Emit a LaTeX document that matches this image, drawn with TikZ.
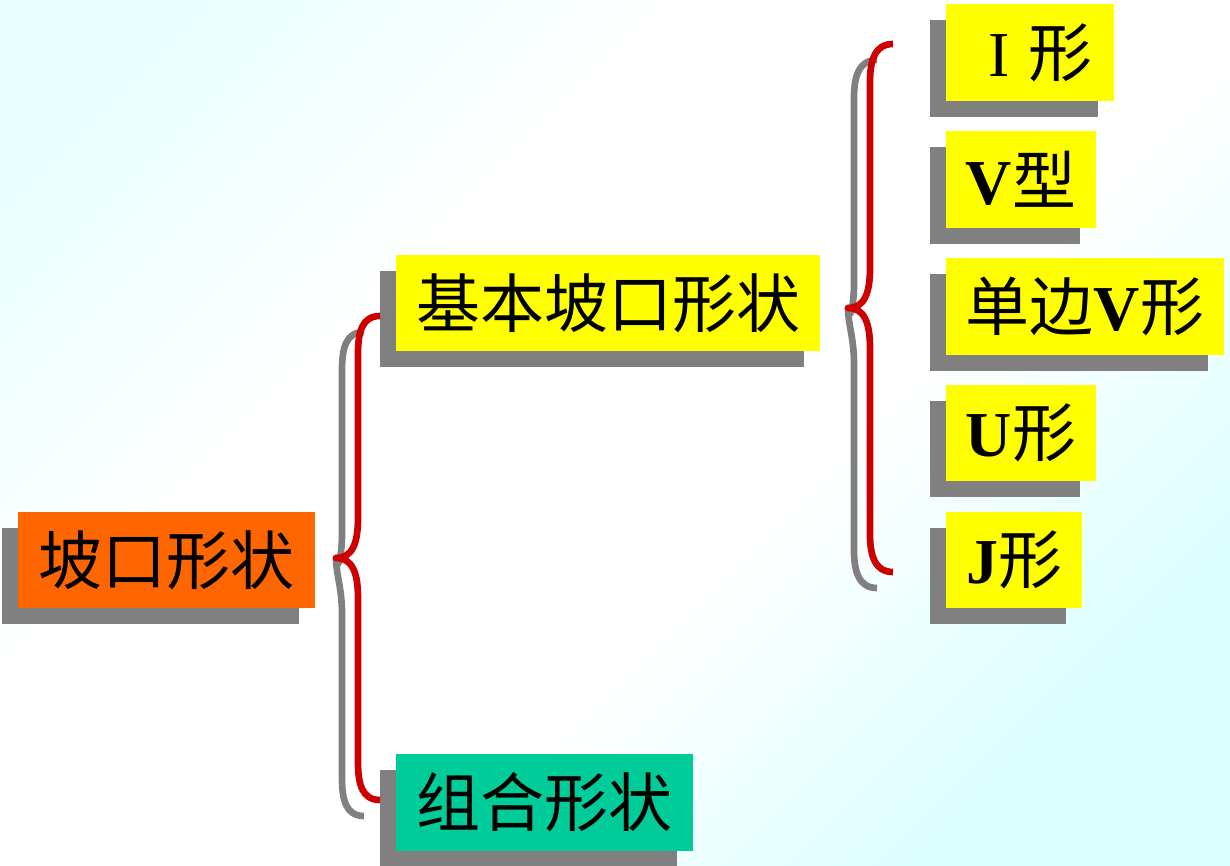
\documentclass[tikz,border=0pt]{standalone}
\usepackage{fontspec}
\setmainfont{Liberation Serif}
\newfontfamily\cjk{Noto Sans CJK SC}
\newfontfamily\lat{Liberation Serif}
\usetikzlibrary{shadows}
\definecolor{bgcyanA}{HTML}{EAFFFF}
\definecolor{bgcyanB}{HTML}{DCFFFF}
\definecolor{boxorange}{HTML}{FF6600}
\definecolor{boxgreen}{HTML}{00CC99}
\definecolor{boxyellow}{HTML}{FFFF00}
\definecolor{shgrey}{HTML}{808080}
\definecolor{bred}{HTML}{CC0000}
\pgfdeclareverticalshading{bgdiag}{100bp}{color(0bp)=(bgcyanB); color(25bp)=(bgcyanB); color(42bp)=(white); color(62bp)=(white); color(78bp)=(bgcyanA); color(100bp)=(bgcyanA)}
\begin{document}
\begin{tikzpicture}[x=0.75pt,y=-0.75pt,
  box/.style={inner sep=0pt, font=\cjk\fontsize{48}{50}\selectfont, text=black,
    drop shadow={shadow xshift=-12pt, shadow yshift=-12pt, opacity=1, fill=shgrey}},
  sz/.style 2 args={minimum width=#1*0.75pt, minimum height=#2*0.75pt},
  bracestroke/.style={line width=5pt, line cap=butt, line join=round}]
% background
\shade[shading=bgdiag, shading angle=45] (0,0) rectangle (1230,866);
\useasboundingbox (0,0) rectangle (1230,866);

% nodes
\node[box, fill=boxorange, sz={297}{96}] (root) at (166.5,560) {坡口形状};
\node[box, fill=boxyellow, sz={424}{96}] (basic) at (608,303) {基本坡口形状};
\node[box, fill=boxgreen, sz={297}{97}] (combo) at (544.5,802.5) {组合形状};
\node[box, fill=boxyellow, sz={168}{97}] (tI) at (1030,52.5) {\kern 16pt{\lat I}\kern 14pt形};
\node[box, fill=boxyellow, sz={150}{97}] (tV) at (1021,179.5) {{\lat\bfseries V}型};
\node[box, fill=boxyellow, sz={278}{97}] (tSV) at (1085,306.5) {单边{\lat\bfseries V}形};
\node[box, fill=boxyellow, sz={150}{96}] (tU) at (1021,433) {{\lat\bfseries U}形};
\node[box, fill=boxyellow, sz={136}{96}] (tJ) at (1014,560) {{\lat\bfseries J}形};

% brace anchor coordinates
\coordinate (b1tip) at (336,558);
\coordinate (b2tip) at (848,308);

% braces: grey shadow first, red on top
\foreach \c/\d in {shgrey/-16, bred/0}{
  \draw[bracestroke, draw=\c, shift={(\d,-\d)}]
    (380,316) .. controls (362,316) and (358,332) .. (358,354)
    -- (358,518) .. controls (358,544) and (352,558) .. (b1tip)
    .. controls (352,558) and (358,572) .. (358,598)
    -- (358,762) .. controls (358,784) and (362,800) .. (380,800);
  \draw[bracestroke, draw=\c, shift={(\d,-\d)}]
    (893,44) .. controls (875,44) and (870,60) .. (870,82)
    -- (870,268) .. controls (870,294) and (864,308) .. (b2tip)
    .. controls (864,308) and (870,322) .. (870,348)
    -- (870,534) .. controls (870,556) and (875,572) .. (893,572);
}
\end{tikzpicture}
\end{document}
